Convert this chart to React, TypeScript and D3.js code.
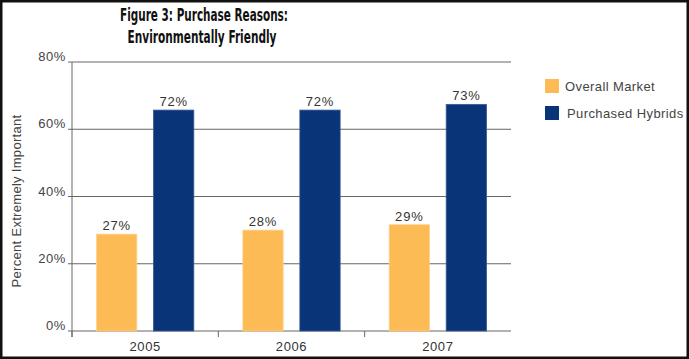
import React from "react";
import * as d3 from "d3";

const years = ["2005", "2006", "2007"];
const seriesNames = ["Overall Market", "Purchased Hybrids"];
const seriesColors = ["#FDBB55", "#0A3478"];
const seriesStrokes = ["#FFD08A", "#3A5A96"];
// bar heights as drawn in the picture (percent of axis)
const overallMarket = [28.8, 30.0, 31.6];
const purchasedHybrids = [65.7, 65.7, 67.4];
// printed labels
const overallLabels = ["27%", "28%", "29%"];
const hybridLabels = ["72%", "72%", "73%"];
const yTicks = [0, 20, 40, 60, 80];

const W = 689;
const H = 359;
const plot = { left: 72, right: 511, top: 62, bottom: 331 };
const font = "'Liberation Sans', Arial, sans-serif";
const textColor = "#444";

export default function App() {
  const x = d3.scaleBand<string>().domain(years).range([plot.left, plot.right]);
  const inner = d3
    .scaleBand<string>()
    .domain(seriesNames)
    .range([0, x.bandwidth()])
    .paddingInner(0.293)
    .paddingOuter(0.43);
  const y = d3.scaleLinear().domain([0, 80]).range([plot.bottom, plot.top]);

  const series = [
    { name: seriesNames[0], values: overallMarket, labels: overallLabels },
    { name: seriesNames[1], values: purchasedHybrids, labels: hybridLabels },
  ];

  const xTickPos = [plot.left, ...years.slice(1).map((c) => x(c) as number)];

  return (
    <svg
      width={W}
      height={H}
      style={{ position: "absolute", left: 0, top: 0, background: "#fff" }}
    >
      <rect x={0} y={0} width={W} height={H} fill="#fff" />
      {/* title */}
      <text
        x={204}
        y={21}
        textAnchor="middle"
        fontFamily="'Liberation Sans Narrow', 'DejaVu Sans Condensed', sans-serif"
        fontWeight="bold"
        fontSize={18}
        fill="#111"
        textLength={168}
        lengthAdjust="spacingAndGlyphs"
      >
        Figure 3: Purchase Reasons:
      </text>
      <text
        x={202}
        y={43}
        textAnchor="middle"
        fontFamily="'Liberation Sans Narrow', 'DejaVu Sans Condensed', sans-serif"
        fontWeight="bold"
        fontSize={18}
        fill="#111"
        textLength={149}
        lengthAdjust="spacingAndGlyphs"
      >
        Environmentally Friendly
      </text>

      {/* gridlines and y ticks */}
      {yTicks.map((t) => (
        <g key={t}>
          <line
            x1={plot.left - 4}
            x2={plot.right}
            y1={y(t)}
            y2={y(t)}
            stroke="#666"
            strokeWidth={1}
          />
          <text
            x={plot.left - 6}
            y={y(t) - 1}
            textAnchor="end"
            fontFamily={font}
            fontSize={13}
            letterSpacing={0.6}
            fill={textColor}
          >
            {t}%
          </text>
        </g>
      ))}
      {/* y axis */}
      <line
        x1={plot.left}
        x2={plot.left}
        y1={plot.top}
        y2={plot.bottom + 6}
        stroke="#666"
        strokeWidth={1}
      />
      {xTickPos.map((p, i) => (
        <line
          key={i}
          x1={p}
          x2={p}
          y1={plot.bottom}
          y2={plot.bottom + 6}
          stroke="#666"
          strokeWidth={1}
        />
      ))}

      {/* bars */}
      {series.map((s, si) =>
        years.map((yr, i) => {
          const bx = (x(yr) as number) + (inner(s.name) as number);
          const bw = inner.bandwidth();
          return (
            <g key={s.name + yr}>
              <rect
                x={bx}
                y={y(s.values[i])}
                width={bw}
                height={plot.bottom - y(s.values[i])}
                fill={seriesColors[si]}
                stroke={seriesStrokes[si]}
                strokeWidth={0.8}
              />
              <text
                x={bx + bw / 2}
                y={y(s.values[i]) - 4}
                textAnchor="middle"
                fontFamily={font}
                fontSize={13}
                letterSpacing={0.8}
                fill="#333"
              >
                {s.labels[i]}
              </text>
            </g>
          );
        })
      )}

      {/* x labels */}
      {years.map((yr) => (
        <text
          key={yr}
          x={(x(yr) as number) + x.bandwidth() / 2}
          y={351}
          textAnchor="middle"
          fontFamily={font}
          fontSize={13}
          letterSpacing={0.6}
          fill="#333"
        >
          {yr}
        </text>
      ))}

      {/* y axis title */}
      <text
        transform={`translate(21, 201) rotate(-90)`}
        textAnchor="middle"
        fontFamily={font}
        fontSize={13}
        letterSpacing={0.3}
        fill={textColor}
      >
        Percent Extremely Important
      </text>

      {/* legend */}
      {seriesNames.map((n, i) => (
        <g key={n} transform={`translate(545, ${79 + i * 27})`}>
          <rect width={14} height={14} fill={seriesColors[i]} />
          <text
            x={20 + i * 2}
            y={12}
            fontFamily={font}
            fontSize={13}
            letterSpacing={0.4}
            fill={textColor}
          >
            {n}
          </text>
        </g>
      ))}

      {/* frame */}
      <rect
        x={1.25}
        y={1.25}
        width={W - 2.5}
        height={H - 2.5}
        fill="none"
        stroke="#111"
        strokeWidth={2.5}
      />
    </svg>
  );
}
